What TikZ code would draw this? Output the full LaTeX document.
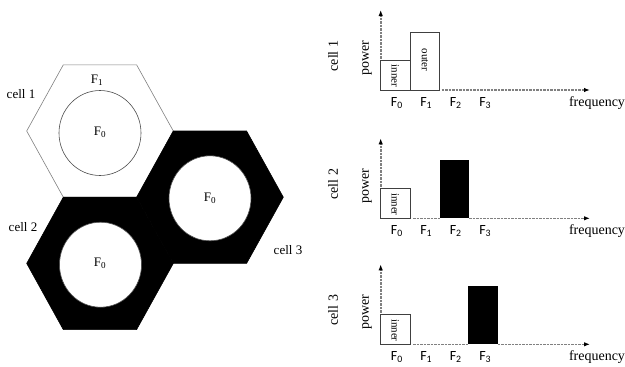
\documentclass[tikz,border=0pt]{standalone}
\usepackage{fontspec}
\setmainfont{Liberation Serif}
\newfontfamily\calfont{Carlito}
\usetikzlibrary{arrows.meta}

\begin{document}
\begin{tikzpicture}[
  x=1pt,
  y=-1pt,
  hexcell/.style={
    line width=0.6pt
  },
  hole/.style={
    draw=black!70,
    fill=white,
    line width=0.6pt
  },
  celllabel/.style={
    font=\fontsize{13}{15}\selectfont,
    inner sep=1pt
  },
  freqlabel/.style={
    font=\calfont\fontsize{14}{16}\selectfont,
    inner sep=1pt
  },
  axislabel/.style={
    font=\fontsize{14}{16}\selectfont,
    inner sep=1pt
  },
  band/.style={
    draw=black!75,
    line width=0.6pt,
    fill=white
  },
  bandtext/.style={
    font=\fontsize{11}{13}\selectfont,
    inner sep=1pt
  },
  axisline/.style={
    draw=black!50,
    dash pattern=on 2.5pt off 1pt,
    line width=1.6pt
  },
  axis/.style={
    axisline,
    -{Latex[color=black,length=6pt,width=4.5pt]}
  },
  >=latex
]
\useasboundingbox (0,0) rectangle (625,367);

% Cells
\foreach \cx/\cy/\col/\edge in {100/131/white/gray, 100/263.4/black/black, 210/197.2/black/black} {
  \filldraw[hexcell, fill=\col, draw=\edge] (\cx-73.3,\cy) -- ++(36.6,-66.2) -- ++(73.3,0)
    -- ++(36.7,66.2) -- ++(-36.7,66.2) -- ++(-73.3,0) -- cycle;
}

% Inner areas
\foreach \cx/\cy in {100/133, 100.5/264.7, 210/198.3} {
  \draw[hole] (\cx,\cy) ellipse [x radius=41, y radius=42.5];
}

% Cell labels
\node[celllabel] (fone)   at (97,80)     {F\textsubscript{1}};
\node[celllabel] (fzeroa) at (100,132)   {F\textsubscript{0}};
\node[celllabel] (fzerob) at (100,263)   {F\textsubscript{0}};
\node[celllabel] (fzeroc) at (210,198.5) {F\textsubscript{0}};
\node[celllabel] (cella)  at (21,94)     {cell 1};
\node[celllabel] (cellb)  at (23,227)    {cell 2};
\node[celllabel] (cellc)  at (288,250)   {cell 3};

% Spectra
\foreach \k/\b in {1/90, 2/218.3, 3/344.3} {
  \coordinate (orig\k) at (380.7,\b);
  \coordinate (ytip\k) at (380.7,\b-80);
  \coordinate (xtip\k) at (590,\b);
  \draw[axis] (orig\k) -- (ytip\k);
  \draw[band] (orig\k) rectangle ++(29.3,-30);
  \node[bandtext, rotate=-90] (inner\k) at (395.3,\b-14) {inner};
  \foreach \i/\x in {0/395.3, 1/424.7, 2/454.2, 3/483.7} {
    \node[freqlabel] (f\k\i) at (\x+1.5,\b+13) {F\textsubscript{\i}};
  }
  \node[axislabel] (freq\k) at (597,\b+13) {frequency};
  \node[axislabel, rotate=90] (pow\k) at (367,\b-32) {power};
  \node[axislabel, rotate=90] (cellax\k) at (333,\b-34) {cell \k};
}

% Cell 1: outer band
\draw[band] (410,90) rectangle ++(29.5,-58);
\node[bandtext, rotate=-90] (outer1) at (425,60) {outer};
\coordinate (xa1) at (441.7,90);
\draw[axis] (xa1) -- (xtip1);

% Cell 2: F2 band
\coordinate (xa2) at (413,218.3);
\coordinate (xb2) at (439.5,218.3);
\coordinate (xc2) at (469,218.3);
\draw[axisline] (xa2) -- (xb2);
\fill[black] (xb2) rectangle ++(29.5,-58.3);
\draw[axis] (xc2) -- (xtip2);

% Cell 3: F3 band
\coordinate (xa3) at (413,344.3);
\coordinate (xb3) at (468,344.3);
\coordinate (xc3) at (497.7,344.3);
\draw[axisline] (xa3) -- (xb3);
\fill[black] (xb3) rectangle ++(29.7,-58.3);
\draw[axis] (xc3) -- (xtip3);

\end{tikzpicture}
\end{document}
